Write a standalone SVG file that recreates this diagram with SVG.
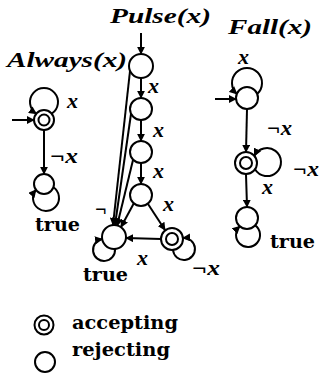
<svg xmlns="http://www.w3.org/2000/svg" width="321" height="377" viewBox="0 0 321 377">
<defs>
<marker id="ah" viewBox="0 0 10 10" refX="9" refY="5" markerUnits="userSpaceOnUse" markerWidth="8" markerHeight="8" orient="auto">
<path d="M0,0 L10,5 L0,10 z" fill="#000"/>
</marker>
<style>
.n{fill:#fff;stroke:#000;stroke-width:2}
.e{fill:none;stroke:#000;stroke-width:2;marker-end:url(#ah)}
.t{font-family:"Liberation Serif",serif;font-style:italic;font-weight:bold;font-size:22px;fill:#000}
.m{font-family:"Liberation Serif",serif;font-style:italic;font-weight:bold;font-size:20px;fill:#000}
.r{font-family:"DejaVu Serif",serif;font-weight:bold;font-size:18px;fill:#000}
</style>
</defs>
<rect width="321" height="377" fill="#fff"/>
<g id="titles">
<text class="t" x="7" y="67" textLength="120" lengthAdjust="spacingAndGlyphs">Always(x)</text>
<text class="t" x="110" y="23" textLength="101" lengthAdjust="spacingAndGlyphs">Pulse(x)</text>
<text class="t" x="228" y="34" textLength="84" lengthAdjust="spacingAndGlyphs">Fall(x)</text>
</g>
<g id="connectors">
<!-- Always -->
<path class="e" d="M12,120 L34,120"/>
<path class="e" d="M51.7,113.7 A14,14 0 1 0 36.3,113.7"/>
<path class="e" d="M44,130 L44,174"/>
<path class="e" d="M53.4,187.3 A13,13 0 1 1 35.9,189.8"/>
<!-- Pulse -->
<path class="e" d="M141,33 L141,54"/>
<path class="e" d="M141,78 L141,98"/>
<path class="e" d="M141,120 L141,141"/>
<path class="e" d="M141,163 L141,184"/>
<path class="e" d="M148,204 L165,230"/>
<path class="e" d="M161,239 L126,238"/>
<path class="e" d="M130,71 L113,225"/>
<path class="e" d="M131,114 L115,225"/>
<path class="e" d="M133,160 L117,226"/>
<path class="e" d="M134,203 L121,227"/>
<path class="e" d="M115,249 A11,11 0 1 1 102.2,239.1"/>
<path class="e" d="M173,250 A11,11 0 1 0 183,238"/>
<!-- Fall -->
<path class="e" d="M215,99 L236,99"/>
<path class="e" d="M257.2,94 A15,15 0 1 0 236.8,94"/>
<path class="e" d="M247,109 L246,152"/>
<path class="e" d="M255,169.3 A14,14 0 1 0 254.4,155.9"/>
<path class="e" d="M246,174 L247,207"/>
<path class="e" d="M255.2,225.4 A12,12 0 1 1 239.8,226.3"/>
</g>
<g id="always-s0"><circle class="n" cx="44" cy="120" r="10"/><circle class="n" cx="44" cy="120" r="5.5"/></g>
<g id="always-s1"><circle class="n" cx="44" cy="184" r="10"/></g>
<g id="pulse-s1"><circle class="n" cx="141" cy="66" r="12"/></g>
<g id="pulse-s2"><circle class="n" cx="141" cy="109" r="11"/></g>
<g id="pulse-s3"><circle class="n" cx="141" cy="152" r="11"/></g>
<g id="pulse-s4"><circle class="n" cx="141" cy="195" r="11"/></g>
<g id="pulse-sink"><circle class="n" cx="114" cy="237" r="12"/></g>
<g id="pulse-acc"><circle class="n" cx="172" cy="239" r="11"/><circle class="n" cx="172" cy="239" r="6"/></g>
<g id="fall-s0"><circle class="n" cx="247" cy="98" r="11"/></g>
<g id="fall-s1"><circle class="n" cx="246" cy="163" r="11"/><circle class="n" cx="246" cy="163" r="6"/></g>
<g id="fall-s2"><circle class="n" cx="247" cy="218" r="11"/></g>
<g id="labels">
<text class="m" x="67" y="108" textLength="11" lengthAdjust="spacingAndGlyphs">x</text>
<text class="m" x="50" y="163" textLength="28" lengthAdjust="spacingAndGlyphs">¬x</text>
<text class="r" x="35" y="231" textLength="45" lengthAdjust="spacingAndGlyphs">true</text>
<text class="m" x="148" y="93" textLength="11" lengthAdjust="spacingAndGlyphs">x</text>
<text class="m" x="153" y="137" textLength="11" lengthAdjust="spacingAndGlyphs">x</text>
<text class="m" x="153" y="178" textLength="11" lengthAdjust="spacingAndGlyphs">x</text>
<text class="m" x="163" y="211" textLength="11" lengthAdjust="spacingAndGlyphs">x</text>
<text class="m" x="137" y="265" textLength="11" lengthAdjust="spacingAndGlyphs">x</text>
<text class="m" x="95" y="216">¬</text>
<text class="m" x="192" y="275" textLength="28" lengthAdjust="spacingAndGlyphs">¬x</text>
<text class="r" x="83" y="281" textLength="45" lengthAdjust="spacingAndGlyphs">true</text>
<text class="m" x="238" y="64" textLength="11" lengthAdjust="spacingAndGlyphs">x</text>
<text class="m" x="267" y="135" textLength="25" lengthAdjust="spacingAndGlyphs">¬x</text>
<text class="m" x="293" y="176" textLength="26" lengthAdjust="spacingAndGlyphs">¬x</text>
<text class="m" x="262" y="194" textLength="11" lengthAdjust="spacingAndGlyphs">x</text>
<text class="r" x="270" y="248" textLength="45" lengthAdjust="spacingAndGlyphs">true</text>
</g>
<g id="legend">
<circle class="n" cx="44" cy="325" r="9.5"/><circle class="n" cx="44" cy="325" r="5"/>
<text class="r" x="72" y="329" textLength="106" lengthAdjust="spacingAndGlyphs">accepting</text>
<circle class="n" cx="45" cy="362" r="10"/>
<text class="r" x="72" y="356" textLength="98" lengthAdjust="spacingAndGlyphs">rejecting</text>
</g>
</svg>
